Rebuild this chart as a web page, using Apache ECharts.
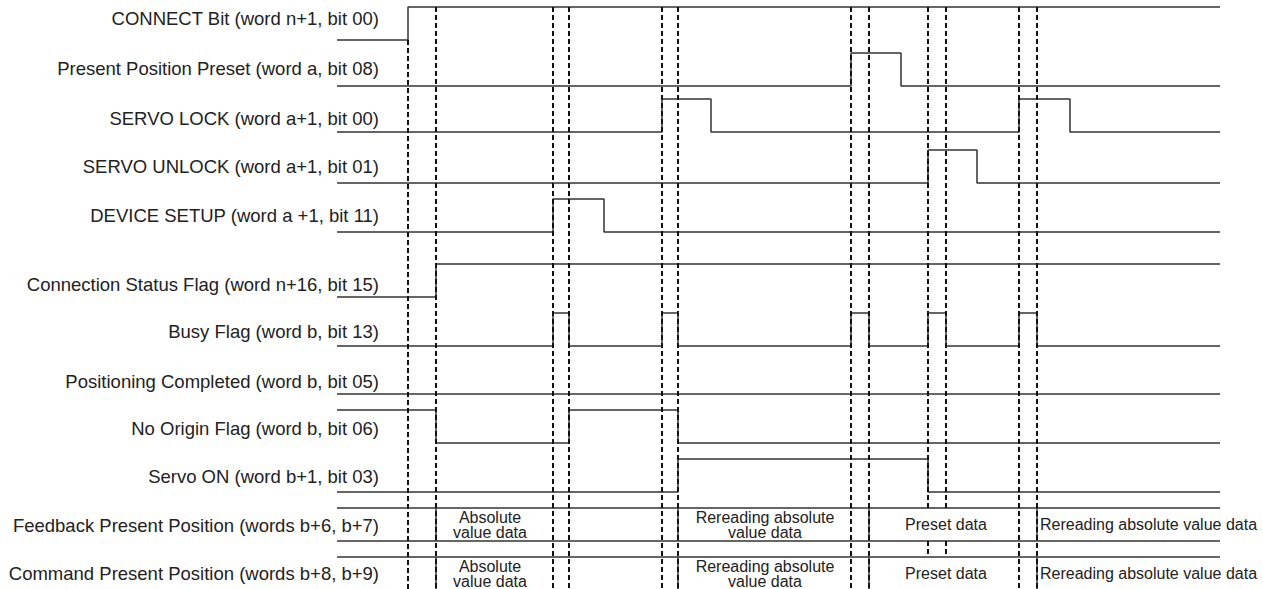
<!DOCTYPE html>
<html>
<head>
<meta charset="utf-8">
<title>Timing chart</title>
<script src="https://cdn.jsdelivr.net/npm/echarts@6/dist/echarts.min.js"></script>
<style>
    html, body { margin: 0; padding: 0; background: #fff; }
    #chart { width: 1263px; height: 589px; }
</style>
</head>
<body>
<div id="chart"></div>
<script>
// signal names, left column
var signalNames = [
    'CONNECT Bit (word n+1, bit 00)',
    'Present Position Preset (word a, bit 08)',
    'SERVO LOCK (word a+1, bit 00)',
    'SERVO UNLOCK (word a+1, bit 01)',
    'DEVICE SETUP (word a +1, bit 11)',
    'Connection Status Flag (word n+16, bit 15)',
    'Busy Flag (word b, bit 13)',
    'Positioning Completed (word b, bit 05)',
    'No Origin Flag (word b, bit 06)',
    'Servo ON (word b+1, bit 03)'
];
var busNames = [
    'Feedback Present Position (words b+6, b+7)',
    'Command Present Position (words b+8, b+9)'
];

// initial level of each bit and the times it toggles
var bitStart = [0, 0, 0, 0, 0, 0, 0, 0, 1, 0];
var bitEdges = [
    [408],
    [851, 901],
    [662, 711, 1019, 1070],
    [928, 977],
    [553, 604],
    [436],
    [553, 569, 662, 678, 851, 869, 928, 946, 1019, 1037],
    [],
    [436, 569, 678],
    [678, 928]
];
// dashed timing markers
var markerTimes = [408, 436, 553, 569, 662, 678, 851, 869, 928, 946, 1019, 1037];
var markerHiddenInBus = [928, 946];
// word data changes and what the word holds
var busEdges = [436, 678, 869, 1037];
var busTexts = ['Absolute\nvalue data', 'Rereading absolute\nvalue data', 'Preset data', 'Rereading absolute value data'];
var busTextTimes = [490, 765, 946, 1040];
var tStart = 337;
var tEnd = 1220;

// layout (pixels of the y axis)
var rowLow = [40, 86, 132, 183, 232, 297, 346, 394, 443, 492];
var rowAmp = 33;
var busTop = [508, 557];
var busHeight = 33;
var labelY = [18, 68, 118, 166, 215, 284, 331, 381, 428, 476, 525, 573];
var labelRight = 379;

var lineColor = '#333';
var textColor = '#222';
var fontFamily = '"Liberation Sans", Arial, Helvetica, sans-serif';

var chart = echarts.init(document.getElementById('chart'), null, { renderer: 'svg' });

var series = [];
/**
 * bit signals
 */
for (var i = 0; i < signalNames.length; i++) {
    var level = bitStart[i];
    var pts = [[tStart, rowLow[i] - level * rowAmp]];
    for (var k = 0; k < bitEdges[i].length; k++) {
        var t = bitEdges[i][k];
        pts.push([t, rowLow[i] - level * rowAmp]);
        level = 1 - level;
        pts.push([t, rowLow[i] - level * rowAmp]);
    }
    pts.push([tEnd, rowLow[i] - level * rowAmp]);
    series.push({
        type: 'line',
        data: pts,
        symbol: 'none',
        silent: true,
        z: 3,
        lineStyle: { color: lineColor, width: 1.5 }
    });
}

/**
 * dashed markers
 */
series.push({
    type: 'custom',
    silent: true,
    z: 4,
    data: markerTimes.map(function (t) { return [t]; }),
    renderItem: function (params, api) {
        var t = api.value(0);
        var top = t === bitEdges[0][0] ? rowLow[0] : rowLow[0] - rowAmp;
        var spans = [[top, 589]];
        if (markerHiddenInBus.indexOf(t) >= 0) {
            spans = [[top, busTop[0]], [busTop[0] + busHeight, busTop[1]]];
        }
        return {
            type: 'group',
            children: spans.map(function (s) {
                var a = api.coord([t, s[0]]);
                var b = api.coord([t, s[1]]);
                return {
                    type: 'line',
                    shape: { x1: a[0], y1: a[1], x2: b[0], y2: b[1] },
                    style: { stroke: '#111', lineWidth: 2, lineDash: [5, 3] }
                };
            })
        };
    }
});

/**
 * word data rows
 */
series.push({
    type: 'custom',
    silent: true,
    z: 3,
    data: busNames.map(function (n, idx) { return [idx]; }),
    renderItem: function (params, api) {
        var r = params.dataIndex;
        var y0 = busTop[r];
        var y1 = busTop[r] + busHeight;
        var children = [];
        [y0, y1].forEach(function (y) {
            var a = api.coord([tStart, y]);
            var b = api.coord([tEnd, y]);
            children.push({
                type: 'line',
                shape: { x1: a[0], y1: a[1], x2: b[0], y2: b[1] },
                style: { stroke: lineColor, lineWidth: 1.5 }
            });
        });
        busEdges.forEach(function (t) {
            var a = api.coord([t, y0]);
            var b = api.coord([t, y1]);
            children.push({
                type: 'line',
                shape: { x1: a[0], y1: a[1], x2: b[0], y2: b[1] },
                style: { stroke: lineColor, lineWidth: 1.5 }
            });
        });
        busTexts.forEach(function (txt, k) {
            var p = api.coord([busTextTimes[k], (y0 + y1) / 2]);
            children.push({
                type: 'text',
                x: p[0],
                y: p[1],
                style: {
                    text: txt,
                    fill: textColor,
                    fontSize: 16,
                    fontFamily: fontFamily,
                    lineHeight: 15,
                    align: k === busTexts.length - 1 ? 'left' : 'center',
                    verticalAlign: 'middle'
                }
            });
        });
        return { type: 'group', children: children };
    }
});

/**
 * row labels
 */
var allNames = signalNames.concat(busNames);
series.push({
    type: 'custom',
    silent: true,
    z: 5,
    data: allNames.map(function (n, idx) { return [idx]; }),
    renderItem: function (params, api) {
        var p = api.coord([labelRight, labelY[params.dataIndex]]);
        return {
            type: 'text',
            x: p[0],
            y: p[1],
            style: {
                text: allNames[params.dataIndex],
                fill: textColor,
                fontSize: 18.5,
                fontFamily: fontFamily,
                align: 'right',
                verticalAlign: 'middle'
            }
        };
    }
});

chart.setOption({
    animation: false,
    backgroundColor: '#fff',
    grid: { left: 0, right: 0, top: 0, bottom: 0, outerBoundsMode: 'none' },
    xAxis: { type: 'value', min: 0, max: 1263, show: false },
    yAxis: { type: 'value', min: 0, max: 589, inverse: true, show: false },
    series: series
});

window.addEventListener('resize', function () {
    chart.resize();
});
</script>
</body>
</html>
